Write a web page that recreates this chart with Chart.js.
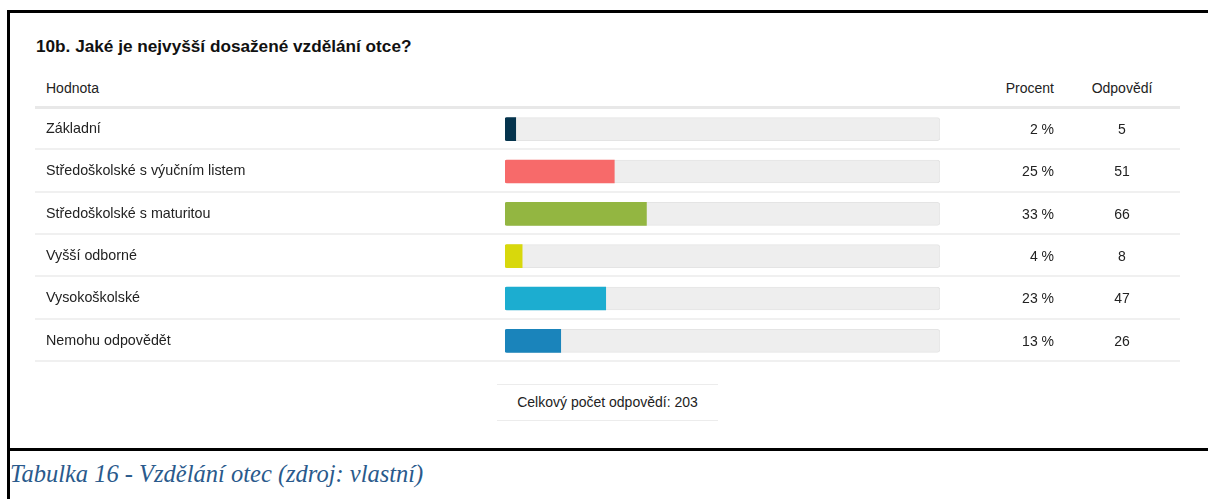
<!DOCTYPE html>
<html lang="cs">
<head>
<meta charset="utf-8">
<title>Vzdělání otce</title>
<script src="https://cdn.jsdelivr.net/npm/chart.js@4/dist/chart.umd.min.js"></script>
<style>
  html, body { margin: 0; padding: 0; background: #fff; }
  body { width: 1208px; height: 499px; position: relative; overflow: hidden;
         font-family: Arial, "Liberation Sans", sans-serif; color: #222; }
  .frame { position: absolute; left: 7px; top: 10px; width: 1240px; height: 441px;
           box-sizing: border-box; border: 3px solid #000; border-right: none; }
  .frame-tail { position: absolute; left: 7px; top: 451px; width: 3px; height: 48px; background: #000; }
  .title { position: absolute; left: 36px; top: 36px; font-size: 17.2px; font-weight: bold; color: #111; white-space: nowrap; }
  .head { position: absolute; top: 80px; font-size: 14px; color: #222; white-space: nowrap; }
  .head-line { position: absolute; left: 35px; top: 106px; width: 1145px; height: 3px; background: #e8e8e8; }
  #chartBox { position: absolute; left: 35px; top: 108px; width: 1145px; height: 254px; }
  .total { position: absolute; left: 497px; top: 384px; width: 221px; height: 37px; box-sizing: border-box;
           border-top: 1px solid #ececec; border-bottom: 1px solid #ececec;
           font-size: 14px; line-height: 35px; text-align: center; color: #222; }
  .caption { position: absolute; left: 10px; top: 462px; font-family: "Liberation Serif", "Times New Roman", serif;
             font-style: italic; font-size: 24.5px; line-height: 1; color: #2a5a8c; white-space: nowrap; }
</style>
</head>
<body>
<div class="frame"></div>
<div class="frame-tail"></div>

<div class="title">10b. Jaké je nejvyšší dosažené vzdělání otce?</div>
<div class="head" style="left:46px">Hodnota</div>
<div class="head" style="right:154px">Procent</div>
<div class="head" style="left:1122px; transform:translateX(-50%)">Odpovědí</div>
<div class="head-line"></div>

<div id="chartBox"><canvas id="eduChart"></canvas></div>

<div class="total" id="total"></div>
<div class="caption">Tabulka 16 - Vzdělání otec (zdroj: vlastní)</div>

<script>
const categories = [
  "Základní",
  "Středoškolské s výučním listem",
  "Středoškolské s maturitou",
  "Vyšší odborné",
  "Vysokoškolské",
  "Nemohu odpovědět",
];
const answers = [5, 51, 66, 8, 47, 26];
const barColors = ["#05344d", "#f76a6a", "#93b641", "#d8d80c", "#1cadd0", "#1a84bb"];

const total = answers.reduce((a, b) => a + b, 0);
const trackValues = categories.map(() => total);

document.getElementById("total").textContent = "Celkový počet odpovědí: " + total;

// row separators plus the Procent / Odpovědí columns
const tableColumns = {
  id: "tableColumns",
  beforeDatasetsDraw(chart) {
    const { ctx, width } = chart;
    const y = chart.scales.y;
    const step = y.getPixelForValue(1) - y.getPixelForValue(0);
    ctx.save();
    ctx.strokeStyle = "#f0f0f0";
    ctx.lineWidth = 2;
    categories.forEach((c, i) => {
      const yy = Math.round(y.getPixelForValue(i) + step / 2) - 1;
      ctx.beginPath();
      ctx.moveTo(0, yy);
      ctx.lineTo(width, yy);
      ctx.stroke();
    });
    ctx.restore();
  },
  afterDatasetsDraw(chart) {
    const { ctx } = chart;
    const y = chart.scales.y;
    ctx.save();
    ctx.font = "14px Arial, 'Liberation Sans', sans-serif";
    ctx.fillStyle = "#222";
    ctx.textBaseline = "middle";
    answers.forEach((v, i) => {
      const yy = y.getPixelForValue(i) + 1;
      ctx.textAlign = "right";
      ctx.fillText(Math.round((v / total) * 100) + " %", 1019, yy);
      ctx.textAlign = "center";
      ctx.fillText(String(v), 1087, yy);
    });
    ctx.restore();
  },
};

new Chart(document.getElementById("eduChart"), {
  type: "bar",
  data: {
    labels: categories,
    datasets: [
      {
        data: answers,
        backgroundColor: barColors,
        borderWidth: 0,
        borderSkipped: false,
        borderRadius: { topLeft: 2, bottomLeft: 2, topRight: 0, bottomRight: 0 },
        barThickness: 23,
        grouped: false,
      },
      {
        data: trackValues,
        backgroundColor: "#eeeeee",
        borderColor: "#e4e4e4",
        borderWidth: 1,
        borderSkipped: false,
        borderRadius: 3,
        barThickness: 23,
        grouped: false,
      },
    ],
  },
  options: {
    indexAxis: "y",
    responsive: true,
    maintainAspectRatio: false,
    animation: false,
    layout: { padding: { left: 11, right: 240, top: 0, bottom: 0 } },
    plugins: {
      legend: { display: false },
      tooltip: { enabled: false },
    },
    scales: {
      x: { display: false, min: 0, max: total },
      y: {
        grid: { display: false },
        border: { display: false },
        ticks: {
          crossAlign: "far",
          color: "#222",
          font: { family: "Arial, 'Liberation Sans', sans-serif", size: 14.3 },
        },
        afterFit(scale) {
          scale.width = 459;
          // rows fill the whole box, no half-label padding at the ends
          scale.paddingTop = 0;
          scale.paddingBottom = 0;
        },
      },
    },
  },
  plugins: [tableColumns],
});
</script>
</body>
</html>
